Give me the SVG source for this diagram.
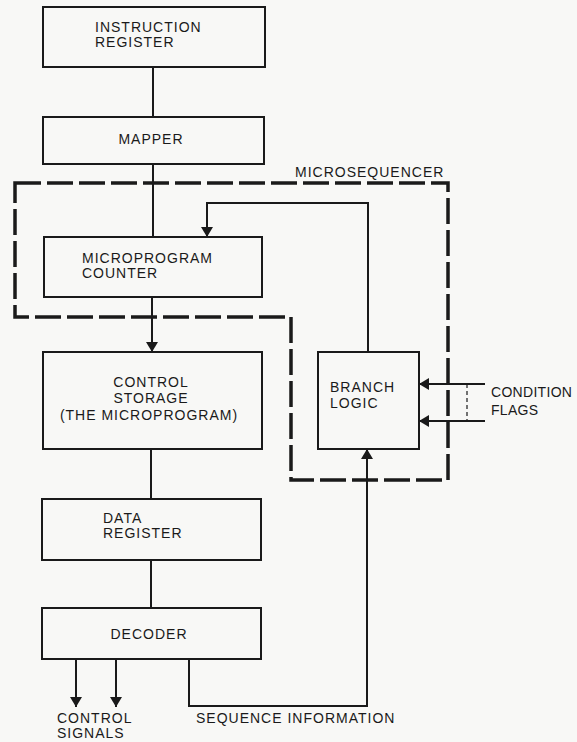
<svg xmlns="http://www.w3.org/2000/svg" width="577" height="742" viewBox="0 0 577 742">
<defs>
<marker id="arr" viewBox="0 0 10 12" refX="10" refY="6" markerWidth="10" markerHeight="12" markerUnits="userSpaceOnUse" orient="auto">
<path d="M0,0 L10,6 L0,12 Z" fill="#1a1a1a"/>
</marker>
<style>
.box{fill:none;stroke:#1a1a1a;stroke-width:2}
.ln{fill:none;stroke:#1a1a1a;stroke-width:2}
.dash{fill:none;stroke:#1a1a1a;stroke-width:3.5;stroke-dasharray:26 6}
.thin{fill:none;stroke:#1a1a1a;stroke-width:1.2;stroke-dasharray:4 3}
text{font-family:"Liberation Sans","DejaVu Sans",sans-serif;font-size:14px;fill:#1a1a1a;letter-spacing:1px}
.c{text-anchor:middle}
.tight{letter-spacing:0.3px}
</style>
</defs>
<rect x="0" y="0" width="577" height="742" fill="#f8f8f6"/>
<g id="microsequencer">
<path class="dash" d="M15,183 H448 V480 H291 V317 H15 Z"/>
<text x="295" y="177">MICROSEQUENCER</text>
</g>
<g id="connectors">
<line class="ln" x1="153" y1="67" x2="153" y2="117"/>
<line class="ln" x1="153" y1="164" x2="153" y2="237"/>
<line class="ln" x1="152" y1="297" x2="152" y2="352" marker-end="url(#arr)"/>
<polyline class="ln" points="368,352 368,203 207,203 207,237" marker-end="url(#arr)"/>
<line class="ln" x1="151" y1="449" x2="151" y2="499"/>
<line class="ln" x1="151" y1="560" x2="151" y2="608"/>
<line class="ln" x1="76" y1="659" x2="76" y2="707" marker-end="url(#arr)"/>
<line class="ln" x1="116" y1="659" x2="116" y2="707" marker-end="url(#arr)"/>
<polyline class="ln" points="189,659 189,706 367,706 367,449" marker-end="url(#arr)"/>
<line class="ln" x1="485" y1="384" x2="419" y2="384" marker-end="url(#arr)"/>
<line class="ln" x1="485" y1="421" x2="419" y2="421" marker-end="url(#arr)"/>
<line class="thin" x1="467" y1="384" x2="467" y2="421"/>
</g>
<g id="instruction-register">
<rect class="box" x="43" y="7" width="222" height="60"/>
<text x="95" y="32">INSTRUCTION</text>
<text x="95" y="47">REGISTER</text>
</g>
<g id="mapper">
<rect class="box" x="43" y="117" width="221" height="47"/>
<text class="c" x="151" y="144">MAPPER</text>
</g>
<g id="microprogram-counter">
<rect class="box" x="44" y="237" width="218" height="60"/>
<text x="82" y="263">MICROPROGRAM</text>
<text x="82" y="278">COUNTER</text>
</g>
<g id="control-storage">
<rect class="box" x="43" y="352" width="219" height="97"/>
<text class="c" x="151" y="387">CONTROL</text>
<text class="c" x="151" y="403">STORAGE</text>
<text class="c" x="149" y="420">(THE MICROPROGRAM)</text>
</g>
<g id="branch-logic">
<rect class="box" x="318" y="352" width="101" height="97"/>
<text x="330" y="392">BRANCH</text>
<text x="330" y="408">LOGIC</text>
</g>
<g id="condition-flags">
<text class="tight" x="491" y="397">CONDITION</text>
<text class="tight" x="491" y="415">FLAGS</text>
</g>
<g id="data-register">
<rect class="box" x="42" y="499" width="219" height="61"/>
<text x="103" y="523">DATA</text>
<text x="103" y="538">REGISTER</text>
</g>
<g id="decoder">
<rect class="box" x="42" y="608" width="219" height="51"/>
<text class="c" x="149" y="639">DECODER</text>
</g>
<g id="control-signals">
<text x="57" y="723">CONTROL</text>
<text x="57" y="738">SIGNALS</text>
</g>
<g id="sequence-information">
<text x="196" y="723">SEQUENCE INFORMATION</text>
</g>
</svg>
